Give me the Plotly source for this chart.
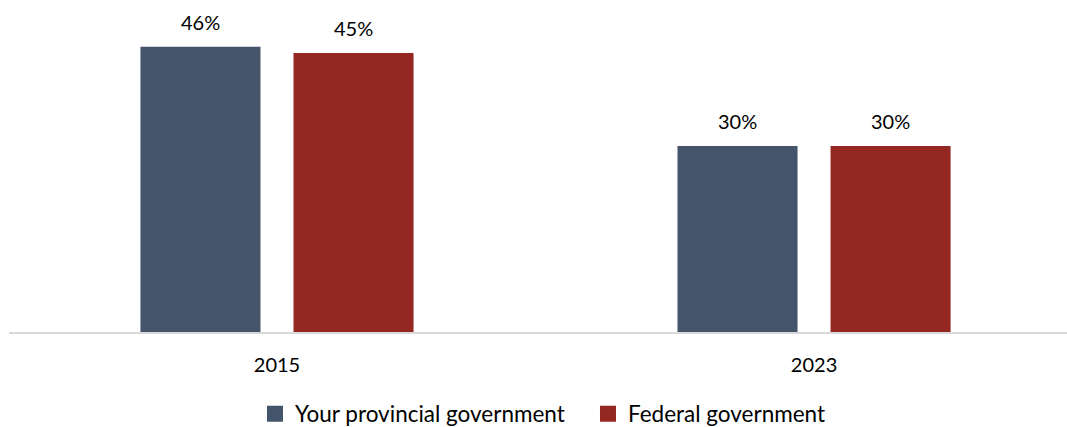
import plotly.graph_objects as go

# Survey years and the share for each level of government (percent)
years = ["2015", "2023"]
provincial = [46, 30]
federal = [45, 30]

series_names = ["Your provincial government", "Federal government"]
series_colors = ["#44546A", "#952722"]
series_values = [provincial, federal]

FONT = "Lato"
TEXT_COLOR = "#000000"

fig = go.Figure()

# Grouped bars (legend handled by marker-only entries below)
for name, vals, color in zip(series_names, series_values, series_colors):
    fig.add_trace(go.Bar(
        x=years, y=vals, name=name,
        marker=dict(color=color, line=dict(width=0)),
        showlegend=False, hoverinfo="x+y+name",
    ))

# Legend entries with larger square swatches
for name, color in zip(series_names, series_colors):
    fig.add_trace(go.Scatter(
        x=[None], y=[None], mode="markers", name=name,
        marker=dict(symbol="square", size=16, color=color),
        hoverinfo="skip",
    ))

# Value labels above each bar (category axis: x given as category index)
bar_offset_px = 76.5
for i, vals in enumerate(series_values):
    shift = -bar_offset_px if i == 0 else bar_offset_px
    for j, v in enumerate(vals):
        fig.add_annotation(
            x=j, y=v, text=f"{v}%", showarrow=False,
            xref="x", yref="y",
            xshift=shift, yshift=25, yanchor="middle",
            font=dict(family=FONT, size=20, color=TEXT_COLOR),
        )

plot_height = 332
px_per_unit = 6.2

fig.update_layout(
    width=1067, height=427,
    margin=dict(l=9, r=0, t=0, b=95, autoexpand=False),
    paper_bgcolor="white", plot_bgcolor="white",
    barmode="group", bargap=0.43, bargroupgap=0.2157,
    font=dict(family=FONT, size=20, color=TEXT_COLOR),
    showlegend=True,
    legend=dict(
        orientation="h", x=0.2325, xanchor="left",
        y=-0.247, yanchor="middle",
        entrywidth=288, entrywidthmode="pixels",
        font=dict(family=FONT, size=22.5, color=TEXT_COLOR),
        bgcolor="rgba(0,0,0,0)",
    ),
    xaxis=dict(
        type="category", range=[-0.499, 1.471],
        showline=True, linecolor="#D9D9D9", linewidth=2,
        showgrid=False, zeroline=False, ticks="",
        ticklabelstandoff=14,
        tickfont=dict(family=FONT, size=20, color=TEXT_COLOR),
        fixedrange=True,
    ),
    yaxis=dict(
        range=[0, plot_height / px_per_unit],
        visible=False, showgrid=False, zeroline=False,
        fixedrange=True,
    ),
)

fig.write_html("out.html", config={"displayModeBar": False})
